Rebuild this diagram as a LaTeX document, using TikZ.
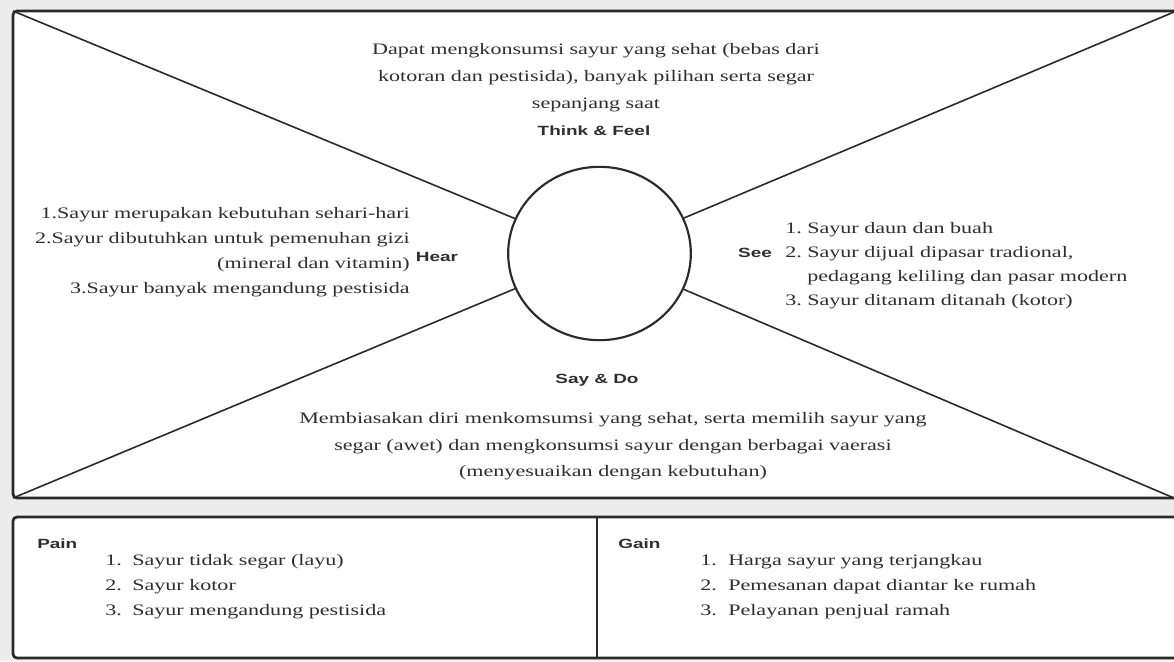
\documentclass[tikz,border=0pt]{standalone}
\usepackage{fontspec}
\usetikzlibrary{shapes.geometric}
\newfontfamily\bodyf[FakeStretch=1.38]{Liberation Serif}
\newfontfamily\labf[FakeStretch=1.42]{Liberation Sans}
\definecolor{bgc}{HTML}{ECECEC}
\definecolor{txt}{HTML}{2E2E2E}
\definecolor{edge}{HTML}{2A2A2A}
\tikzset{
  body/.style={font=\bodyf\fontsize{12}{14}\selectfont, text=txt, inner sep=0pt},
  lab/.style={font=\labf\bfseries\fontsize{10}{12}\selectfont, text=txt, inner sep=0pt},
  boxline/.style={draw=edge, line width=2pt, rounded corners=3pt, fill=white},
  ray/.style={draw=edge, line width=1.2pt},
}
\begin{document}
\begin{tikzpicture}[x=0.75pt,y=-0.75pt]
\useasboundingbox (0,0) rectangle (1174,661);
\clip (0,0) rectangle (1174,661);
\fill[bgc] (0,0) rectangle (1174,661);
% boxes
\draw[boxline] (13,11) rectangle (1182,498);
\draw[boxline] (13,517) rectangle (1182,658);
\coordinate (dtop) at (597,517);
\coordinate (dbot) at (597,658);
\draw[draw=edge, line width=1.5pt] (dtop) -- (dbot);
% corners
\coordinate (tl) at (13,11);
\coordinate (tr) at (1174,12);
\coordinate (bl) at (13,498);
\coordinate (br) at (1174,498);
% centre
\node[ellipse, draw=edge, line width=1.6pt, minimum width=137pt, minimum height=130pt, inner sep=0pt] (c) at (599.5,253.5) {};
\draw[ray] (tl) -- (c);
\draw[ray] (tr) -- (c);
\draw[ray] (bl) -- (c);
\draw[ray] (br) -- (c);
% Think & Feel
\node[body, anchor=base] (t1) at (596,54) {Dapat mengkonsumsi sayur yang sehat (bebas dari};
\node[body, anchor=base] (t2) at (596,81) {kotoran dan pestisida), banyak pilihan serta segar};
\node[body, anchor=base] (t3) at (596,108) {sepanjang saat};
\node[lab, anchor=base] (tf) at (594,135) {Think \& Feel};
% Hear
\node[body, anchor=base east] (h1) at (410,218) {1.Sayur merupakan kebutuhan sehari-hari};
\node[body, anchor=base east] (h2) at (410,243) {2.Sayur dibutuhkan untuk pemenuhan gizi};
\node[body, anchor=base east] (h3) at (410,268) {(mineral dan vitamin)};
\node[body, anchor=base east] (h4) at (410,293) {3.Sayur banyak mengandung pestisida};
\node[lab] (hear) at (437,257) {Hear};
% See
\node[lab] (see) at (755,253) {See};
\node[body, anchor=base west] (s1n) at (785,233) {1.};
\node[body, anchor=base west] (s1) at (807,233) {Sayur daun dan buah};
\node[body, anchor=base west] (s2n) at (785,257) {2.};
\node[body, anchor=base west] (s2) at (807,257) {Sayur dijual dipasar tradional,};
\node[body, anchor=base west] (s2b) at (807,281) {pedagang keliling dan pasar modern};
\node[body, anchor=base west] (s3n) at (785,305) {3.};
\node[body, anchor=base west] (s3) at (807,305) {Sayur ditanam ditanah (kotor)};
% Say & Do
\node[lab] (sd) at (597,380) {Say \& Do};
\node[body, anchor=base] (d1) at (613,423) {Membiasakan diri menkomsumsi yang sehat, serta memilih sayur yang};
\node[body, anchor=base] (d2) at (613,450) {segar (awet) dan mengkonsumsi sayur dengan berbagai vaerasi};
\node[body, anchor=base] (d3) at (613,476) {(menyesuaikan dengan kebutuhan)};
% Pain
\node[lab, anchor=west] (pain) at (37,544) {Pain};
\node[body, anchor=base west] (p1n) at (105,565) {1.};
\node[body, anchor=base west] (p1) at (132,565) {Sayur tidak segar (layu)};
\node[body, anchor=base west] (p2n) at (105,590) {2.};
\node[body, anchor=base west] (p2) at (132,590) {Sayur kotor};
\node[body, anchor=base west] (p3n) at (105,615) {3.};
\node[body, anchor=base west] (p3) at (132,615) {Sayur mengandung pestisida};
% Gain
\node[lab, anchor=west] (gain) at (618,544) {Gain};
\node[body, anchor=base west] (g1n) at (700,565) {1.};
\node[body, anchor=base west] (g1) at (728,565) {Harga sayur yang terjangkau};
\node[body, anchor=base west] (g2n) at (700,590) {2.};
\node[body, anchor=base west] (g2) at (728,590) {Pemesanan dapat diantar ke rumah};
\node[body, anchor=base west] (g3n) at (700,615) {3.};
\node[body, anchor=base west] (g3) at (728,615) {Pelayanan penjual ramah};
\end{tikzpicture}
\end{document}
